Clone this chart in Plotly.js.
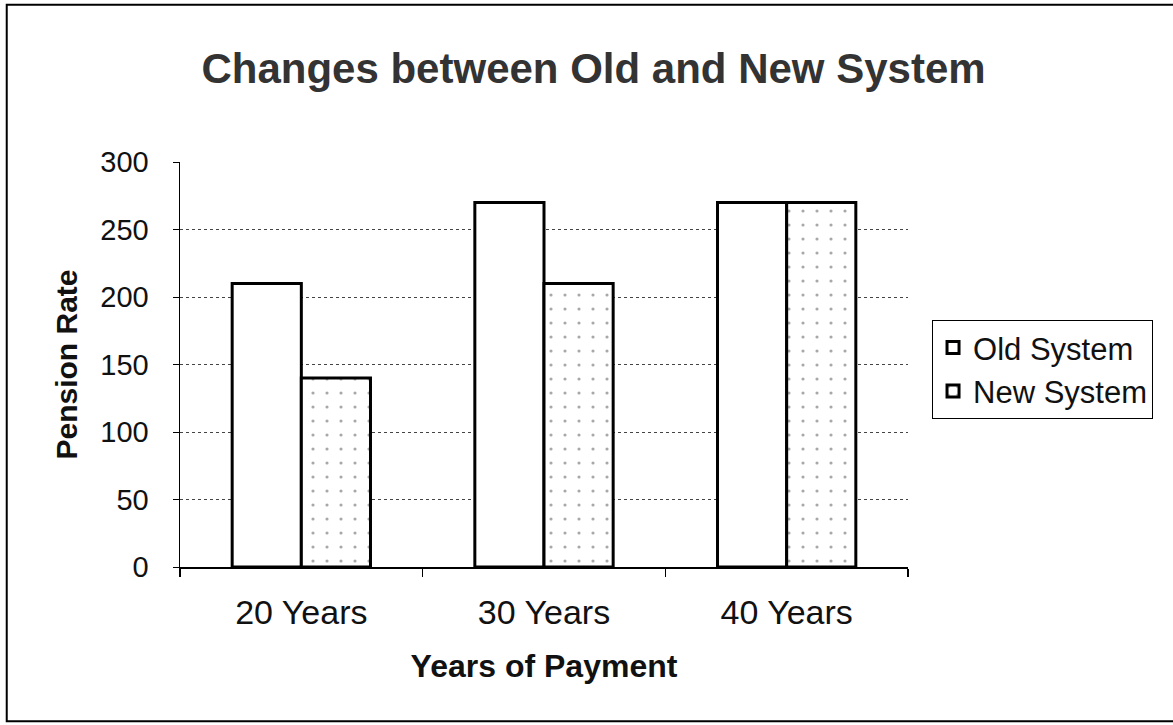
<!DOCTYPE html>
<html>
<head>
<meta charset="utf-8">
<script src="https://cdn.plot.ly/plotly-3.0.1.min.js"></script>
<style>html,body{margin:0;padding:0;background:#fff;}#chart{width:1173px;height:725px;}</style>
</head>
<body>
<div id="chart"></div>
<script>
const categories = ["20 Years", "30 Years", "40 Years"];
const oldSystem = [210, 270, 270];
const newSystem = [140, 210, 270];
const yTicks = [0, 50, 100, 150, 200, 250, 300];

const FONT = "Liberation Sans, Arial, sans-serif";

const traces = [
  {
    type: "bar", name: "Old System", x: categories, y: oldSystem,
    marker: {color: "#ffffff", line: {color: "#000000", width: 3}}
  },
  {
    type: "bar", name: "New System", x: categories, y: newSystem,
    marker: {color: "#ffffff", line: {color: "#000000", width: 3},
      pattern: {shape: ".", fgcolor: "#a8a8a8", bgcolor: "#ffffff", size: 14, solidity: 0.04}}
  }
];

const layout = {
  width: 1173, height: 725,
  paper_bgcolor: "#ffffff", plot_bgcolor: "#ffffff",
  margin: {l: 180, r: 265, t: 162, b: 158},
  font: {family: FONT, color: "#111"},
  title: {text: "Changes between Old and New System", font: {family: FONT, size: 42, color: "#333", weight: "bold"},
    x: 0.506, xref: "container", xanchor: "center", y: 0.906, yanchor: "middle"},
  barmode: "group", bargap: 0.43, bargroupgap: 0,
  xaxis: {
    type: "category", tickson: "boundaries", ticks: "outside", ticklen: 8, tickcolor: "#000", tickwidth: 1.5,
    showline: true, linecolor: "#000", linewidth: 1.5, showgrid: false, ticklabelstandoff: 15,
    tickfont: {size: 34, family: FONT, color: "#111"},
    title: {text: "Years of Payment", font: {size: 32, family: FONT, color: "#111", weight: "bold"}, standoff: 24}
  },
  yaxis: {
    range: [0, 300], tickvals: yTicks, ticks: "outside", ticklen: 6, tickcolor: "#000",
    showline: true, linecolor: "#000", linewidth: 1.5, ticklabelstandoff: 18,
    showgrid: true, gridcolor: "#444", griddash: "dot", gridwidth: 1,
    tickfont: {size: 29, family: FONT, color: "#111"}, zeroline: false,
    title: {text: "Pension Rate", font: {size: 30, family: FONT, color: "#111", weight: "bold"}, standoff: 14}
  },
  legend: {
    x: 1.033, xanchor: "left", y: 0.61, yanchor: "top",
    bordercolor: "#000", borderwidth: 1, bgcolor: "#fff",
    font: {size: 31, family: FONT, color: "#111"}, itemwidth: 30, tracegroupgap: 0
  },
  shapes: [
    {type: "rect", xref: "paper", yref: "paper", x0: -0.238, x1: 1.5, y0: -0.381, y1: 1.388,
     line: {color: "#000", width: 2}, fillcolor: "rgba(0,0,0,0)", layer: "below"}
  ]
};

Plotly.newPlot("chart", traces, layout, {displayModeBar: false, staticPlot: true});
</script>
</body>
</html>
